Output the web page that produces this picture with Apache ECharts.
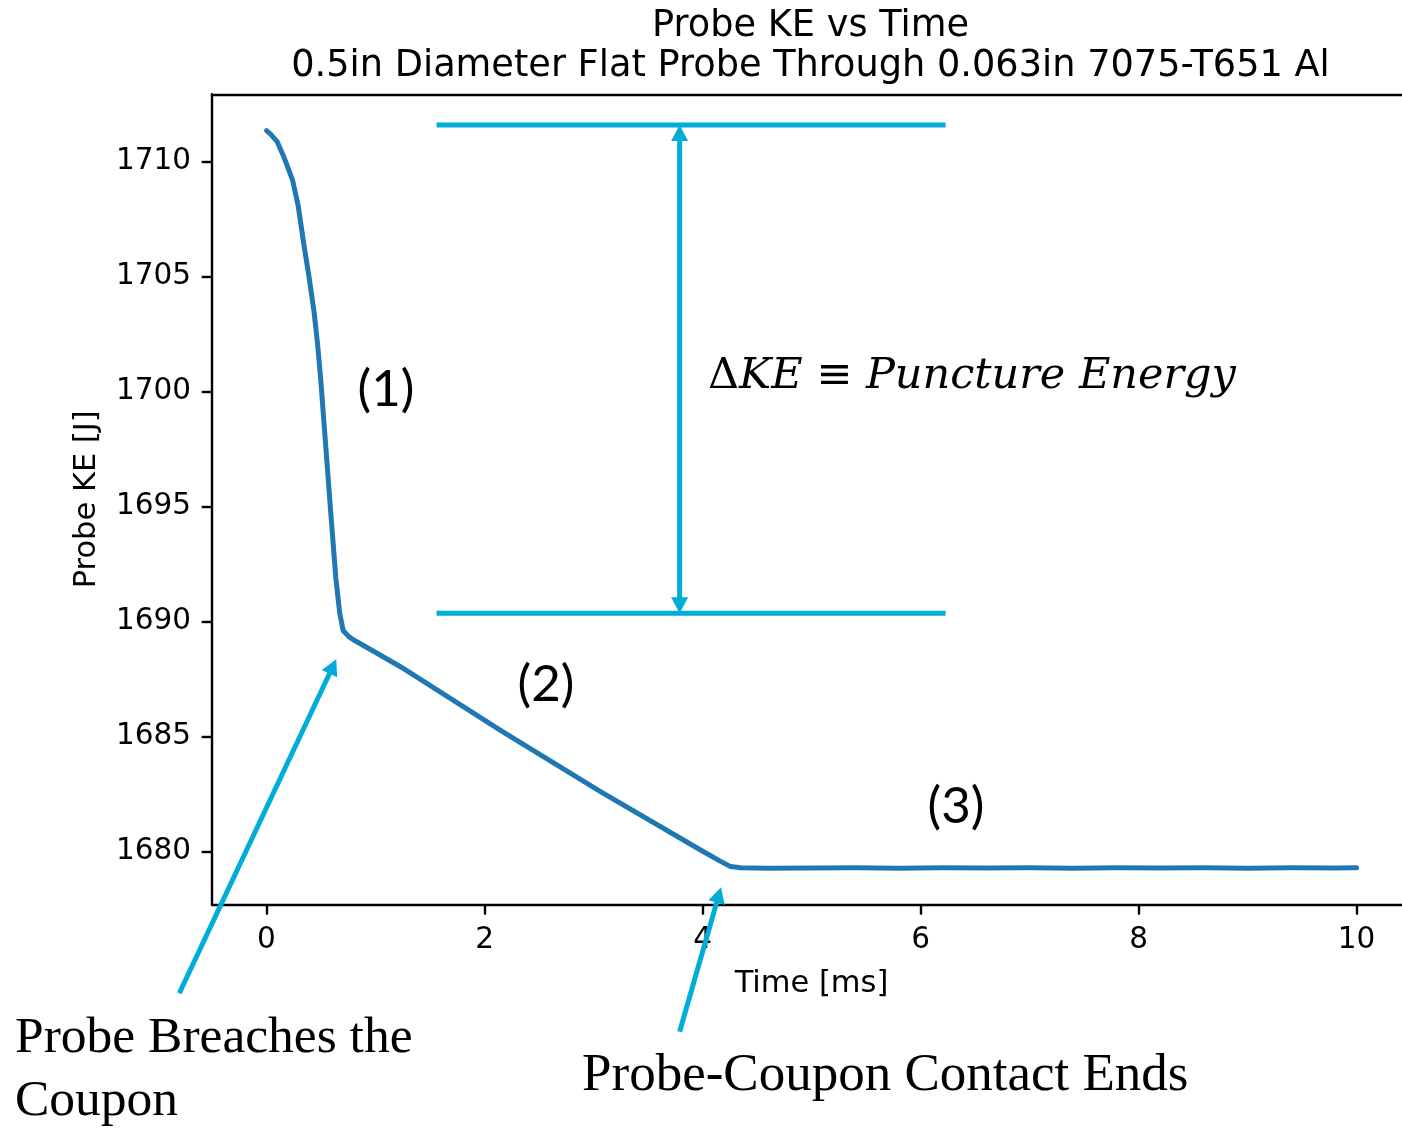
<!DOCTYPE html>
<html>
<head>
<meta charset="utf-8">
<title>Probe KE vs Time</title>
<script src="https://cdn.jsdelivr.net/npm/echarts@6/dist/echarts.min.js"></script>
<style>
  html, body { margin: 0; padding: 0; background: #ffffff; overflow: hidden; }
  #chart { width: 1402px; height: 1128px; }
</style>
</head>
<body>
<div id="chart"></div>
<script>
// Probe kinetic energy history [ms, J]
const timeMs = [
  0, 0.037, 0.098, 0.16, 0.2, 0.239, 0.29, 0.346, 0.39, 0.438, 0.47, 0.498,
  0.544, 0.59, 0.636, 0.672, 0.704, 0.755, 0.80, 0.95, 1.229, 2.147, 3.064,
  3.982, 4.15, 4.257, 4.35, 4.6, 5.0, 5.4, 5.8, 6.2, 6.6, 7.0, 7.4, 7.8,
  8.2, 8.6, 9.0, 9.4, 9.8, 10.0
];
const probeKE = [
  1711.35, 1711.2, 1710.87, 1710.2, 1709.7, 1709.2, 1708.1, 1706.3, 1705.0,
  1703.4, 1702.0, 1700.5, 1697.6, 1694.7, 1691.9, 1690.36, 1689.6, 1689.35,
  1689.2, 1688.8, 1688.04, 1685.27, 1682.61, 1680.07, 1679.62, 1679.35,
  1679.3, 1679.28, 1679.29, 1679.3, 1679.28, 1679.3, 1679.29, 1679.3,
  1679.28, 1679.3, 1679.29, 1679.3, 1679.28, 1679.3, 1679.29, 1679.3
];

// Axis ticks
const timeTicks = [0, 2, 4, 6, 8, 10];
const keTicks = [1680, 1685, 1690, 1695, 1700, 1705, 1710];

// Visible axis ranges (the time axis runs off the right edge of the figure)
const X_RANGE = [-0.5, 10.417];
const Y_RANGE = [1677.71, 1712.93];

// Energy levels before and after the puncture, and the span they are drawn over [ms]
const keBefore = 1711.6;
const keAfter = 1690.37;
const levelSpan = [1.56, 6.23];
const deltaArrowTime = 3.79;

// Call-out arrows: [tail time, tail KE, head time, head KE]
const breachArrow = [-0.80, 1673.84, 0.64, 1688.37];
const contactEndArrow = [3.79, 1672.17, 4.17, 1678.45];

const CYAN = '#00ACD8';
const LINE_BLUE = '#1f77b4';
const SANS = 'DejaVu Sans';

// Annotation segments: [x1, y1, x2, y2, headAtStart, headAtEnd]
const annotationData = [
  [levelSpan[0], keBefore, levelSpan[1], keBefore, 0, 0],
  [levelSpan[0], keAfter, levelSpan[1], keAfter, 0, 0],
  [deltaArrowTime, keAfter, deltaArrowTime, keBefore, 1, 1],
  [breachArrow[0], breachArrow[1], breachArrow[2], breachArrow[3], 0, 1],
  [contactEndArrow[0], contactEndArrow[1], contactEndArrow[2], contactEndArrow[3], 0, 1]
];

function arrowHead(tip, ux, uy, len, half) {
  const bx = tip[0] - ux * len, by = tip[1] - uy * len;
  const nx = -uy, ny = ux;
  return [
    [tip[0], tip[1]],
    [bx + nx * half, by + ny * half],
    [bx - nx * half, by - ny * half]
  ];
}

function renderAnnotation(params, api) {
  const p1 = api.coord([api.value(0), api.value(1)]);
  const p2 = api.coord([api.value(2), api.value(3)]);
  const headStart = api.value(4) === 1;
  const headEnd = api.value(5) === 1;
  const dx = p2[0] - p1[0], dy = p2[1] - p1[1];
  const len = Math.hypot(dx, dy);
  const ux = dx / len, uy = dy / len;
  const HL = 16, HW = 8.5;
  let a = p1.slice(), b = p2.slice();
  const children = [];
  if (headStart) {
    a = [p1[0] + ux * HL * 0.8, p1[1] + uy * HL * 0.8];
    children.push({ type: 'polygon', shape: { points: arrowHead(p1, -ux, -uy, HL, HW) }, style: { fill: CYAN } });
  }
  if (headEnd) {
    b = [p2[0] - ux * HL * 0.8, p2[1] - uy * HL * 0.8];
    children.push({ type: 'polygon', shape: { points: arrowHead(p2, ux, uy, HL, HW) }, style: { fill: CYAN } });
  }
  children.unshift({
    type: 'line',
    shape: { x1: a[0], y1: a[1], x2: b[0], y2: b[1] },
    style: { stroke: CYAN, lineWidth: 5 }
  });
  return { type: 'group', children: children };
}

const chart = echarts.init(document.getElementById('chart'), null, { renderer: 'canvas' });

const plainNumber = (v) => String(v);
const spine = { show: true, onZero: false, lineStyle: { color: '#000000', width: 2.4 } };

chart.setOption({
  backgroundColor: '#ffffff',
  animation: false,
  title: {
    text: 'Probe KE vs Time\n0.5in Diameter Flat Probe Through 0.063in 7075-T651 Al',
    left: 810.5,
    top: 6,
    padding: 0,
    textAlign: 'center',
    textStyle: {
      fontFamily: SANS,
      fontSize: 36.7,
      fontWeight: 'normal',
      color: '#000000',
      lineHeight: 40,
      align: 'center'
    }
  },
  grid: {
    left: 212,
    top: 94.3,
    right: 0,
    height: 810,
    show: false,
    containLabel: false
  },
  xAxis: [
    {
      type: 'value',
      position: 'bottom',
      min: X_RANGE[0],
      max: X_RANGE[1],
      name: 'Time [ms]',
      nameLocation: 'middle',
      nameGap: 64,
      nameTextStyle: { fontFamily: SANS, fontSize: 30.5, color: '#000000', padding: [0, 0, 0, 9] },
      axisLine: spine,
      axisTick: {
        show: true, inside: false, length: 10.3,
        customValues: timeTicks,
        lineStyle: { color: '#000000', width: 2.4 }
      },
      axisLabel: {
        show: true, margin: 21,
        customValues: timeTicks,
        formatter: plainNumber,
        fontFamily: SANS, fontSize: 29.5, color: '#000000'
      },
      splitLine: { show: false }
    },
    {
      // top spine of the frame
      type: 'value',
      position: 'top',
      min: X_RANGE[0],
      max: X_RANGE[1],
      axisLine: spine,
      axisTick: { show: false },
      axisLabel: { show: false },
      splitLine: { show: false }
    }
  ],
  yAxis: {
    type: 'value',
    min: Y_RANGE[0],
    max: Y_RANGE[1],
    name: 'Probe KE [J]',
    nameLocation: 'middle',
    nameGap: 109,
    nameTextStyle: { fontFamily: SANS, fontSize: 30.5, color: '#000000' },
    axisLine: spine,
    axisTick: {
      show: true, inside: false, length: 10.3,
      customValues: keTicks,
      lineStyle: { color: '#000000', width: 2.4 }
    },
    axisLabel: {
      show: true, margin: 21,
      customValues: keTicks,
      formatter: plainNumber,
      fontFamily: SANS, fontSize: 29.5, color: '#000000'
    },
    splitLine: { show: false }
  },
  series: [
    {
      name: 'Probe KE',
      type: 'line',
      data: timeMs.map((t, i) => [t, probeKE[i]]),
      symbol: 'none',
      lineStyle: { color: LINE_BLUE, width: 5, cap: 'round', join: 'round' },
      clip: true,
      z: 3
    },
    {
      name: 'Annotations',
      type: 'custom',
      data: annotationData,
      renderItem: renderAnnotation,
      clip: false,
      silent: true,
      z: 4
    }
  ],
  graphic: [
    { type: 'text', x: 386, y: 390, style: { text: '(1)', fontFamily: 'Lato', fontSize: 51, fill: '#000', align: 'center', verticalAlign: 'middle' } },
    { type: 'text', x: 546, y: 685, style: { text: '(2)', fontFamily: 'Lato', fontSize: 51, fill: '#000', align: 'center', verticalAlign: 'middle' } },
    { type: 'text', x: 956, y: 807, style: { text: '(3)', fontFamily: 'Lato', fontSize: 51, fill: '#000', align: 'center', verticalAlign: 'middle' } },
    {
      type: 'text', x: 708, y: 377,
      style: {
        text: '{u|Δ}{i|KE}{u| ≡ }{i|Puncture Energy}',
        align: 'left', verticalAlign: 'middle', fill: '#000',
        rich: {
          u: { fontFamily: 'DejaVu Serif', fontSize: 43, fill: '#000' },
          i: { fontFamily: 'DejaVu Serif', fontStyle: 'italic', fontSize: 43, fill: '#000' }
        }
      }
    },
    {
      type: 'text', x: 15, y: 1069.5,
      style: {
        text: 'Probe Breaches the\nCoupon', fontFamily: 'Liberation Serif', fontSize: 51.5,
        lineHeight: 63, fill: '#000', align: 'left', verticalAlign: 'middle'
      }
    },
    {
      type: 'text', x: 582, y: 1076,
      style: {
        text: 'Probe-Coupon Contact Ends', fontFamily: 'Liberation Serif', fontSize: 53,
        fill: '#000', align: 'left', verticalAlign: 'middle'
      }
    }
  ]
});
</script>
</body>
</html>
